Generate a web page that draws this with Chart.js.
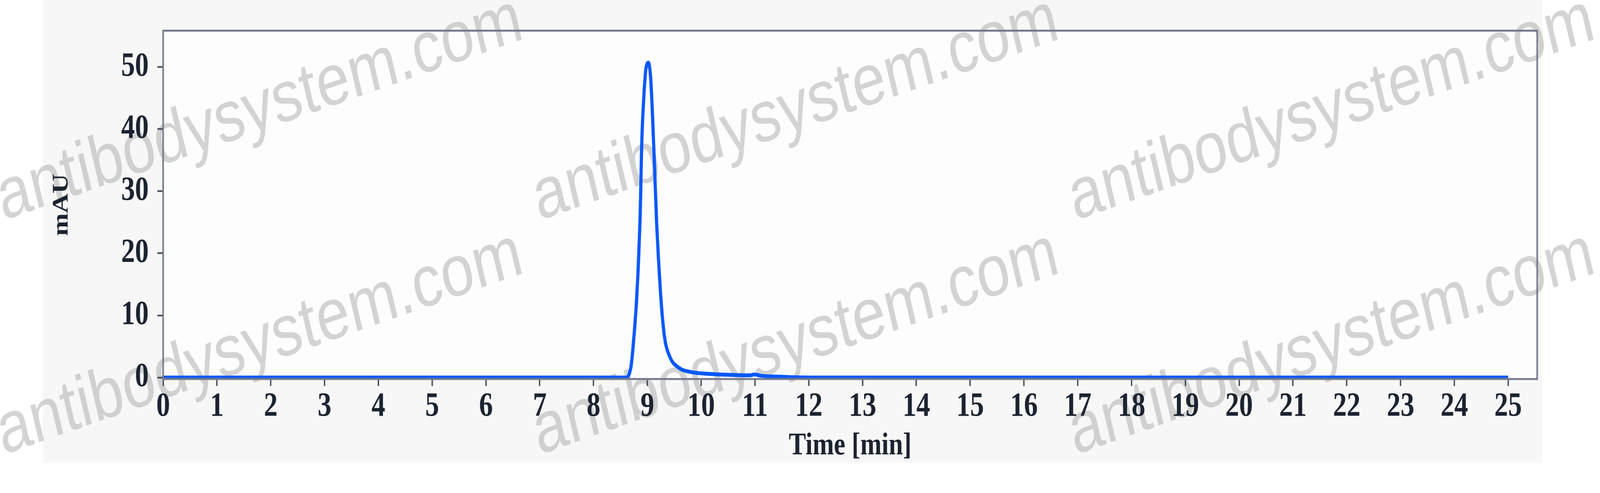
<!DOCTYPE html>
<html>
<head>
<meta charset="utf-8">
<script src="https://cdn.jsdelivr.net/npm/chart.js@4.4.1/dist/chart.umd.min.js"></script>
<style>
  html, body { margin: 0; padding: 0; background: #ffffff; overflow: hidden; }
  #grafico { display: block; width: 100vw; height: 100vh; }
</style>
</head>
<body>
<canvas id="grafico" width="4992" height="1263" style="width:100vw;height:100vh"></canvas>
<script>
// tempo de retenção (min) e absorbância (mAU)
const tempos = [0, 8.6, 8.65, 8.7, 8.75, 8.8, 8.85, 8.875, 8.89, 8.91, 8.94, 8.97, 9.0, 9.02,
  9.06, 9.085, 9.11, 9.14, 9.17, 9.21, 9.26, 9.32, 9.42, 9.58, 9.8, 10.14, 10.48, 10.9, 11.0,
  11.1, 11.4, 12, 25];
const absorbancia = [0, 0, 0.3, 2.0, 6.5, 12.5, 22, 29, 35.8, 41, 46, 49.5, 50.6, 50.7,
  48.4, 44.4, 39.2, 32.4, 25.5, 18.7, 11.8, 6.5, 3.3, 1.6, 0.9, 0.6, 0.45, 0.35, 0.5,
  0.3, 0.15, 0, 0];
const ticksX = [0, 1, 2, 3, 4, 5, 6, 7, 8, 9, 10, 11, 12, 13, 14, 15, 16, 17, 18, 19, 20, 21, 22, 23, 24, 25];
const ticksY = [0, 10, 20, 30, 40, 50];
const marcaDagua = 'antibodysystem.com';

const corTexto = '#1b2330';
const corBorda = '#767b8c';

Chart.defaults.font.family = "'Liberation Serif', 'DejaVu Serif', serif";
Chart.defaults.font.weight = 'bold';
Chart.defaults.color = corTexto;

// fundo do painel, marca d'água e moldura da área do gráfico
const fundo = {
  id: 'fundo',
  beforeDraw(chart) {
    const c = chart.ctx;
    const a = chart.chartArea;
    c.save();
    c.fillStyle = '#f7f7f8';
    c.fillRect(134, 0, 4812 - 134, 1185);
    c.fillStyle = '#fdfdfd';
    c.fillRect(a.left, a.top, a.right - a.left, a.bottom - a.top);
    c.font = "186px 'Liberation Sans', Arial, sans-serif";
    c.fillStyle = 'rgba(160,160,160,0.45)';
    c.textBaseline = 'alphabetic';
    for (let linha = 0; linha < 2; linha++) {
      for (let col = 0; col < 3; col++) {
        c.save();
        c.translate(10 + col * 1672, 565 + linha * 600);
        c.rotate(-16 * Math.PI / 180);
        c.fillText(marcaDagua, 0, 0);
        c.restore();
      }
    }
    c.restore();
  },
  afterDraw(chart) {
    const c = chart.ctx;
    const a = chart.chartArea;
    c.save();
    c.strokeStyle = corBorda;
    c.lineWidth = 5;
    c.strokeRect(a.left, a.top, a.right - a.left, a.bottom - a.top);
    c.restore();
  }
};

new Chart(document.getElementById('grafico'), {
  type: 'line',
  data: {
    datasets: [{
      data: tempos.map((t, i) => ({ x: t, y: absorbancia[i] })),
      borderColor: '#0858f8',
      borderWidth: 10,
      pointRadius: 0,
      cubicInterpolationMode: 'monotone',
      fill: false
    }]
  },
  options: {
    responsive: false,
    devicePixelRatio: 1,
    animation: false,
    layout: { padding: { left: 0, top: 34, right: 4992 - 4796, bottom: 0 } },
    plugins: { legend: { display: false }, tooltip: { enabled: false } },
    scales: {
      x: {
        type: 'linear',
        min: 0,
        max: 25.54,
        afterFit: s => { s.height = 1263 - 971; },
        afterBuildTicks: s => { s.ticks = ticksX.map(v => ({ value: v })); },
        border: { display: false },
        grid: { drawOnChartArea: false, tickLength: 18, tickWidth: 4, tickColor: '#3b4252' },
        ticks: { font: { size: 86 }, padding: 2, maxRotation: 0, autoSkip: false },
        title: { display: true, text: 'Time [min]', font: { size: 80 }, padding: { top: 0, bottom: 72 } }
      },
      y: {
        min: -0.24,
        max: 55.85,
        afterFit: s => { s.width = 509; },
        afterBuildTicks: s => { s.ticks = ticksY.map(v => ({ value: v })); },
        border: { display: false },
        grid: { drawOnChartArea: false, tickLength: 18, tickWidth: 4, tickColor: '#3b4252' },
        ticks: { font: { size: 86 }, padding: 27 },
        title: { display: true, text: 'mAU', font: { size: 70 }, padding: { top: 151, bottom: 0 } }
      }
    }
  },
  plugins: [fundo]
});
</script>
</body>
</html>
